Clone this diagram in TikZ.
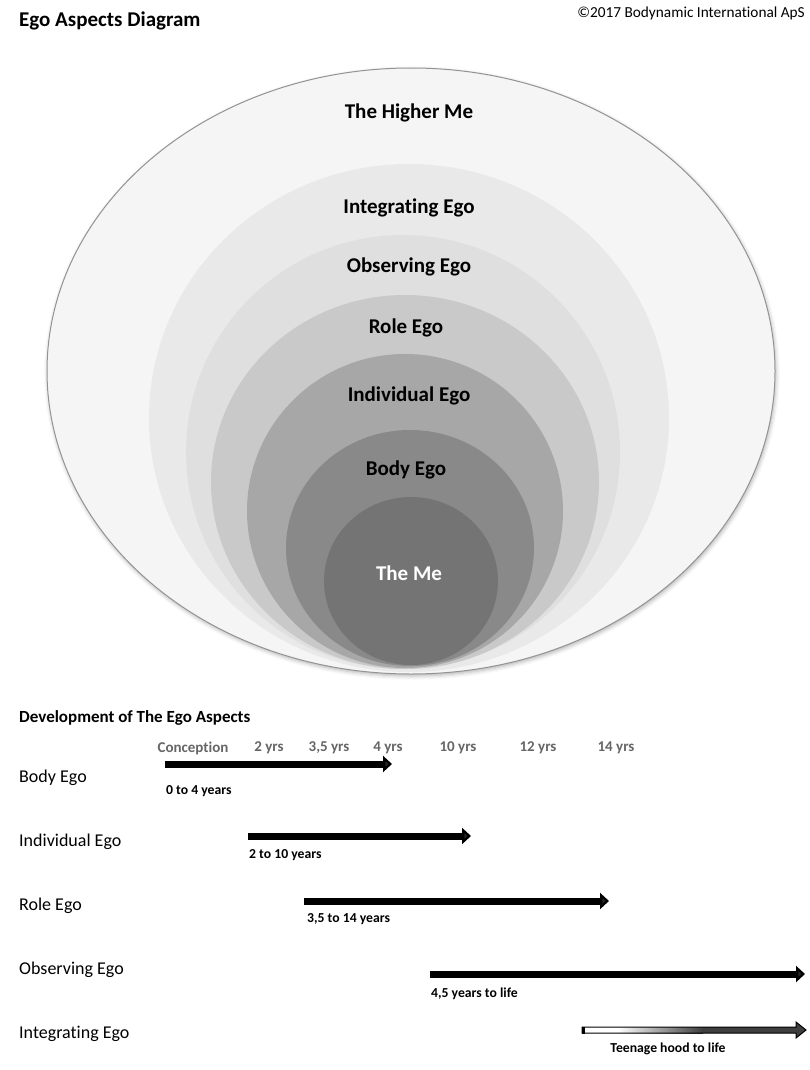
\documentclass[tikz,border=0pt]{standalone}
\usepackage{fontspec}
\setmainfont[Ligatures=NoCommon]{Carlito}
\usetikzlibrary{arrows.meta,shadows.blur}
\definecolor{cOuter}{HTML}{F5F5F5}
\definecolor{cInt}{HTML}{E9E9E9}
\definecolor{cObs}{HTML}{DFDFDF}
\definecolor{cRole}{HTML}{C9C9C9}
\definecolor{cInd}{HTML}{A7A7A7}
\definecolor{cBody}{HTML}{898989}
\definecolor{cMe}{HTML}{747474}
\definecolor{cTick}{HTML}{666666}
\definecolor{cDark}{HTML}{3F3F3F}
\tikzset{
  egolabel/.style={font=\bfseries\fontsize{21}{24}\selectfont, text=black, inner sep=0pt},
  rowlabel/.style={font=\fontsize{18}{21}\selectfont, anchor=west, inner sep=0pt},
  ticklabel/.style={font=\bfseries\fontsize{15}{18}\selectfont, text=cTick, inner sep=0pt},
  spanlabel/.style={font=\bfseries\fontsize{13.7}{16}\selectfont, anchor=west, inner sep=0pt},
  bigarrow/.style={line width=7pt, -{Triangle[length=9pt,width=16pt]}},
}
\begin{document}
\begin{tikzpicture}[x=1pt,y=-1pt]
\useasboundingbox (0,0) rectangle (810,1070);
% nested ellipses
\fill[cOuter, draw=gray!85, line width=1pt, blur shadow={shadow xshift=1pt, shadow yshift=-2pt, shadow blur radius=4pt, shadow opacity=30}] (411,371) ellipse [x radius=364, y radius=303];
\fill[cInt] (409,418) ellipse [x radius=260, y radius=254];
\fill[cObs] (403,452) ellipse [x radius=217, y radius=217];
\fill[cRole] (405,482) ellipse [x radius=194, y radius=187];
\fill[cInd] (405,511) ellipse [x radius=158, y radius=157];
\fill[cBody] (410,548) ellipse [x radius=124, y radius=118];
\fill[cMe] (411,581) ellipse [x radius=87, y radius=84];
\node[egolabel] (higher) at (409,113) {The Higher Me};
\node[egolabel] (integ) at (409,208) {Integrating Ego};
\node[egolabel] (obs) at (409,267) {Observing Ego};
\node[egolabel] (role) at (406,328) {Role Ego};
\node[egolabel] (indiv) at (409,396) {Individual Ego};
\node[egolabel] (body) at (406,470) {Body Ego};
\node[egolabel, text=white] (me) at (409,573) {The Me};
% headings
\node[font=\bfseries\fontsize{21}{24}\selectfont, anchor=west, inner sep=0pt] (title) at (19,21) {Ego Aspects Diagram};
\node[font=\fontsize{15.3}{18}\selectfont, anchor=east, inner sep=0pt] (copy) at (805,13) {©2017 Bodynamic International ApS};
\node[font=\bfseries\fontsize{17}{20}\selectfont, anchor=west, inner sep=0pt] (dev) at (19,718) {Development of The Ego Aspects};
% ticks
\node[ticklabel] (t0) at (193,748) {Conception};
\node[ticklabel] (t2) at (269,748) {2 yrs};
\node[ticklabel] (t35) at (329,748) {3,5 yrs};
\node[ticklabel] (t4) at (388,748) {4 yrs};
\node[ticklabel] (t10) at (458,748) {10 yrs};
\node[ticklabel] (t12) at (538,748) {12 yrs};
\node[ticklabel] (t14) at (616,748) {14 yrs};
% rows
\node[rowlabel] (rbody) at (19,778) {Body Ego};
\node[rowlabel] (rind) at (19,842) {Individual Ego};
\node[rowlabel] (rrole) at (19,906) {Role Ego};
\node[rowlabel] (robs) at (19,970) {Observing Ego};
\node[rowlabel] (rint) at (19,1034) {Integrating Ego};
% arrows
\coordinate (a1s) at (165,764); \coordinate (a1e) at (392,764);
\coordinate (a2s) at (248,836); \coordinate (a2e) at (471,836);
\coordinate (a3s) at (304,901); \coordinate (a3e) at (609,901);
\coordinate (a4s) at (430,974); \coordinate (a4e) at (805,974);
\draw[bigarrow] (a1s) -- (a1e);
\draw[bigarrow] (a2s) -- (a2e);
\draw[bigarrow] (a3s) -- (a3e);
\draw[bigarrow] (a4s) -- (a4e);
\node[spanlabel] (s1) at (166,791) {0 to 4 years};
\node[spanlabel] (s2) at (249,855) {2 to 10 years};
\node[spanlabel] (s3) at (307,919) {3,5 to 14 years};
\node[spanlabel] (s4) at (431,994) {4,5 years to life};
% gradient arrow
\coordinate (a5s) at (582,1030);
\fill[white] (582,1027) rectangle (618,1033);
\shade[left color=white, right color=cDark] (618,1027) rectangle (703,1033);
\fill[cDark] (702.5,1027) -- (796,1027) -- (796,1022) -- (806,1030) -- (796,1038) -- (796,1033) -- (702.5,1033) -- cycle;
\draw[black, line width=1pt]
  (a5s) ++(0,-3) -- (796,1027) -- (796,1022) -- (806,1030) -- (796,1038) -- (796,1033) -- (582,1033) -- cycle;
\fill[black] (581.5,1026.5) rectangle (584.5,1033.5);
\node[font=\bfseries\fontsize{13.7}{16}\selectfont, inner sep=0pt] (s5) at (668,1049) {Teenage hood to life};
\end{tikzpicture}
\end{document}
